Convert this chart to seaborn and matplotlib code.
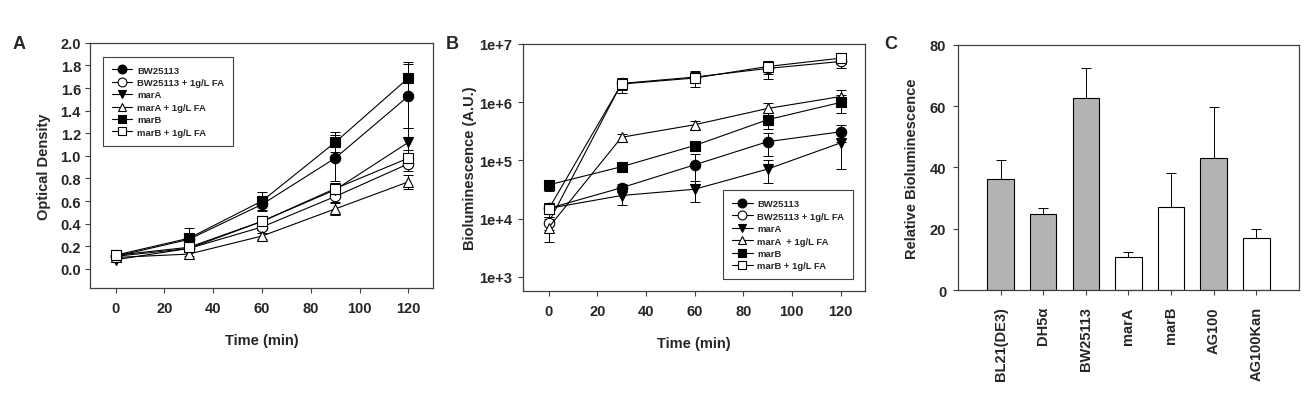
import numpy as np
import pandas as pd
import matplotlib
matplotlib.use('Agg')
import matplotlib.pyplot as plt
from matplotlib.ticker import FixedLocator, FuncFormatter, NullLocator
import seaborn as sns

# --- data ---
time_min = [0, 30, 60, 90, 120]
strains_lines = ['BW25113', 'BW25113 + 1g/L FA', 'marA', 'marA + 1g/L FA', 'marB', 'marB + 1g/L FA']
legend_b = ['BW25113', 'BW25113 + 1g/L FA', 'marA', 'marA  + 1g/L FA', 'marB', 'marB + 1g/L FA']

# panel A: optical density
od_bw = [0.11, 0.26, 0.57, 0.98, 1.53]
od_bw_fa = [0.11, 0.18, 0.37, 0.64, 0.93]
od_mara = [0.08, 0.18, 0.42, 0.70, 1.12]
od_mara_fa = [0.10, 0.13, 0.29, 0.53, 0.77]
od_marb = [0.12, 0.27, 0.60, 1.12, 1.69]
od_marb_fa = [0.12, 0.19, 0.42, 0.71, 0.98]
od_bw_err = [0.01, 0.03, 0.06, 0.20, 0.28]
od_bw_fa_err = [0.01, 0.02, 0.03, 0.05, 0.06]
od_mara_err = [0.02, 0.02, 0.04, 0.06, 0.13]
od_mara_fa_err = [0.01, 0.02, 0.03, 0.05, 0.06]
od_marb_err = [0.01, 0.09, 0.08, 0.09, 0.14]
od_marb_fa_err = [0.01, 0.02, 0.04, 0.05, 0.07]

# panel B: bioluminescence (A.U.)
bl_bw = [1.5e4, 3.4e4, 8.4e4, 2.1e5, 3.1e5]
bl_bw_fa = [8.5e3, 2.1e6, 2.7e6, 3.8e6, 5.0e6]
bl_mara = [1.5e4, 2.5e4, 3.2e4, 7.1e4, 2.0e5]
bl_mara_fa = [7.0e3, 2.5e5, 4.1e5, 7.8e5, 1.25e6]
bl_marb = [3.8e4, 7.8e4, 1.8e5, 5.0e5, 9.9e5]
bl_marb_fa = [1.45e4, 2.05e6, 2.6e6, 4.1e6, 5.7e6]
bl_bw_err = [3e3, 5e3, 4.5e4, 9e4, 1.0e5]
bl_bw_fa_err = [2e3, 5e5, 6e5, 1.3e6, 1.2e6]
bl_mara_err = [3e3, 8e3, 1.3e4, 3e4, 1.3e5]
bl_mara_fa_err = [3e3, 4e4, 7e4, 2e5, 4e5]
bl_marb_err = [8e3, 8e3, 2e4, 1.5e5, 3.5e5]
bl_marb_fa_err = [4e3, 6e5, 8e5, 1.0e6, 1.2e6]

# panel C: relative bioluminescence
strains_bar = ['BL21(DE3)', 'DH5α', 'BW25113', 'marA', 'marB', 'AG100', 'AG100Kan']
rel_biolum = [36.1, 24.9, 62.6, 10.8, 27.0, 43.0, 17.1]
rel_biolum_err = [6.3, 2.0, 9.9, 1.7, 11.3, 16.6, 2.8]
bar_colors = ['#b4b4b4', '#b4b4b4', '#b4b4b4', 'white', 'white', '#b4b4b4', 'white']

# --- tidy frames ---
od_vals = [od_bw, od_bw_fa, od_mara, od_mara_fa, od_marb, od_marb_fa]
od_errs = [od_bw_err, od_bw_fa_err, od_mara_err, od_mara_fa_err, od_marb_err, od_marb_fa_err]
bl_vals = [bl_bw, bl_bw_fa, bl_mara, bl_mara_fa, bl_marb, bl_marb_fa]
bl_errs = [bl_bw_err, bl_bw_fa_err, bl_mara_err, bl_mara_fa_err, bl_marb_err, bl_marb_fa_err]

rows = []
for i, s in enumerate(strains_lines):
    for j, t in enumerate(time_min):
        rows.append({'strain': s, 'time': t, 'od': od_vals[i][j], 'od_err': od_errs[i][j],
                     'bl': bl_vals[i][j], 'bl_err': bl_errs[i][j]})
df = pd.DataFrame(rows)
bar_df = pd.DataFrame({'strain': strains_bar, 'value': rel_biolum, 'err': rel_biolum_err})

markers = ['o', 'o', 'v', '^', 's', 's']
faces = ['black', 'white', 'black', 'white', 'black', 'white']

sns.set_style('ticks')
plt.rcParams['font.family'] = ['Liberation Sans', 'DejaVu Sans']
plt.rcParams['font.weight'] = 'bold'
plt.rcParams['axes.labelweight'] = 'bold'

fig = plt.figure(figsize=(13.15, 4.14), dpi=100)
ax_a = fig.add_axes([0.0684, 0.302, 0.2608, 0.592])
ax_b = fig.add_axes([0.3977, 0.2954, 0.2600, 0.596])
ax_c = fig.add_axes([0.7285, 0.297, 0.2593, 0.592])

spine_col = '#404040'


def style_box(ax):
    for sp in ax.spines.values():
        sp.set_visible(True)
        sp.set_color(spine_col)
        sp.set_linewidth(0.9)
    ax.tick_params(direction='out', length=3.5, width=0.8, color=spine_col, labelsize=10.5)
    ax.tick_params(axis='x', pad=6)
    ax.tick_params(axis='y', pad=3)


def draw_lines(ax, col, err_col):
    for i, s in enumerate(strains_lines):
        sub = df[df['strain'] == s]
        ax.errorbar(sub['time'], sub[col], yerr=sub[err_col], fmt='none', ecolor='black',
                    elinewidth=0.7, capsize=3.5, capthick=0.7, zorder=1)
        sns.lineplot(data=sub, x='time', y=col, ax=ax, color='black', linewidth=0.8,
                     marker=markers[i], markersize=7.5 if markers[i] == 'o' else 7,
                     markerfacecolor=faces[i], markeredgecolor='black', markeredgewidth=0.8,
                     errorbar=None, label=s, zorder=3)


def make_legend(ax, labels, loc, anchor):
    handles, _ = ax.get_legend_handles_labels()
    leg = ax.legend(handles, labels, loc=loc, bbox_to_anchor=anchor, fontsize=6.8,
                    frameon=True, fancybox=False, edgecolor=spine_col, framealpha=1,
                    handlelength=2.2, handletextpad=0.5, labelspacing=0.36,
                    borderpad=0.95, markerscale=0.85)
    leg.get_frame().set_linewidth(0.8)
    for txt in leg.get_texts():
        txt.set_fontweight('bold')


# --- panel A ---
draw_lines(ax_a, 'od', 'od_err')
ax_a.set_xlim(-10.5, 130)
ax_a.set_ylim(-0.17, 2.0)
ax_a.yaxis.set_major_locator(FixedLocator(np.arange(0, 2.01, 0.2)))
ax_a.yaxis.set_major_formatter(FuncFormatter(lambda v, p: f'{v:.1f}'))
ax_a.set_xticks(np.arange(0, 121, 20))
ax_a.set_xlabel('Time (min)', fontsize=10.5, labelpad=13)
ax_a.set_ylabel('Optical Density', fontsize=10.5, labelpad=7)
style_box(ax_a)
make_legend(ax_a, strains_lines, 'upper left', (0.023, 0.963))

# --- panel B ---
draw_lines(ax_b, 'bl', 'bl_err')
ax_b.set_yscale('log')
ax_b.set_xlim(-10.5, 130)
ax_b.set_ylim(580, 1e7)
ax_b.yaxis.set_major_locator(FixedLocator([1e3, 1e4, 1e5, 1e6, 1e7]))
ax_b.yaxis.set_major_formatter(FuncFormatter(lambda v, p: f'1e+{int(round(np.log10(v)))}'))
ax_b.yaxis.set_minor_locator(NullLocator())
ax_b.set_xticks(np.arange(0, 121, 20))
ax_b.set_xlabel('Time (min)', fontsize=10.5, labelpad=13)
ax_b.set_ylabel('Bioluminescence (A.U.)', fontsize=10.5, labelpad=2)
style_box(ax_b)
ax_b.tick_params(axis='y', pad=4)
make_legend(ax_b, legend_b, 'lower right', (0.98, 0.027))

# --- panel C ---
sns.barplot(data=bar_df, x='strain', y='value', hue='strain', palette=bar_colors,
            legend=False, ax=ax_c, width=0.62, edgecolor='black', linewidth=0.8,
            saturation=1, errorbar=None, zorder=2)
pos = np.arange(len(strains_bar))
ax_c.errorbar(pos, bar_df['value'], yerr=[np.zeros(len(pos)), bar_df['err']], fmt='none',
              ecolor='black', elinewidth=0.7, capsize=3.5, capthick=0.7, zorder=1)
ax_c.set_xlim(-1.0, 7.0)
ax_c.set_ylim(0, 80)
ax_c.set_yticks([0, 20, 40, 60, 80])
ax_c.set_xlabel('')
ax_c.set_ylabel('Relative Bioluminescence', fontsize=10.5, labelpad=8)
style_box(ax_c)
ax_c.tick_params(axis='x', labelrotation=90, labelsize=10.5, pad=8)
ax_c.tick_params(axis='y', pad=5)

# panel letters
for lbl, x in [('A', 0.0145), ('B', 0.344), ('C', 0.677)]:
    fig.text(x, 0.893, lbl, fontsize=13, fontweight='bold', va='center', ha='center')

fig.savefig('out.png', dpi=100)
